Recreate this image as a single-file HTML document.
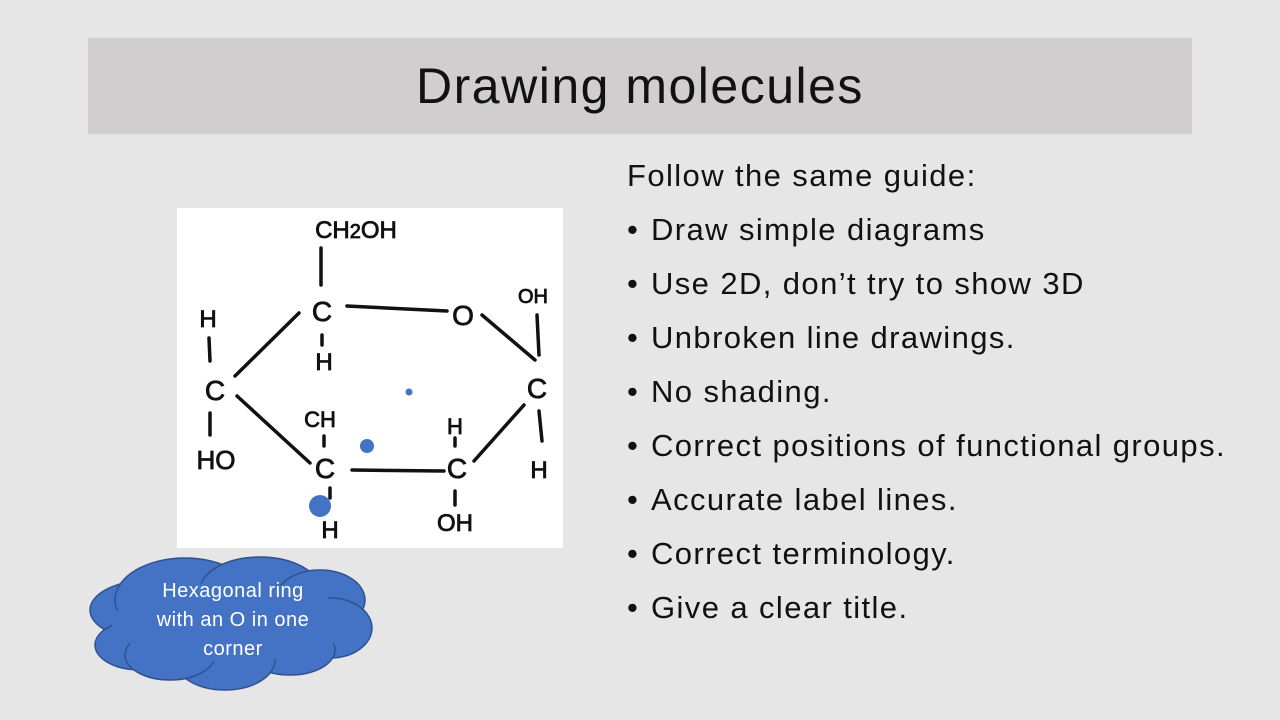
<!DOCTYPE html>
<html><head><meta charset="utf-8"><style>
body{margin:0;width:1280px;height:720px;background:#e7e6e6;position:relative;overflow:hidden;font-family:"Liberation Sans","DejaVu Sans",sans-serif}
.title{position:absolute;left:88px;top:38px;width:1104px;height:96px;background:#d0cece;text-align:center;line-height:96px;font-size:50px;letter-spacing:1.5px;color:#111}
.list{position:absolute;left:627px;top:155px;font-size:31px;letter-spacing:1.4px;color:#111}
.list div{height:54px;line-height:42px;white-space:nowrap}
.b{display:inline-block;width:24px;letter-spacing:0}
svg{position:absolute;left:0;top:0}
</style></head><body>
<div class="title">Drawing molecules</div>
<div class="list">
<div>Follow the same guide:</div>
<div><span class="b">•</span>Draw simple diagrams</div>
<div><span class="b">•</span>Use 2D, don’t try to show 3D</div>
<div><span class="b">•</span>Unbroken line drawings.</div>
<div><span class="b">•</span>No shading.</div>
<div><span class="b">•</span>Correct positions of functional groups.</div>
<div><span class="b">•</span>Accurate label lines.</div>
<div><span class="b">•</span>Correct terminology.</div>
<div><span class="b">•</span>Give a clear title.</div>
</div>
<svg width="1280" height="720">
<rect x="177" y="208" width="386" height="340" fill="#fff"/>
<g stroke="#111" stroke-width="3.5" stroke-linecap="round" fill="none">
<line x1="321" y1="248" x2="321" y2="285"/>
<line x1="322" y1="335" x2="322" y2="345"/>
<line x1="347" y1="306" x2="447" y2="311"/>
<line x1="537" y1="315" x2="539" y2="355"/>
<line x1="482" y1="315" x2="535" y2="360"/>
<line x1="539" y1="411" x2="542" y2="441"/>
<line x1="524" y1="405" x2="474" y2="461"/>
<line x1="455" y1="438" x2="455" y2="446"/>
<line x1="455" y1="491" x2="455" y2="505"/>
<line x1="352" y1="470" x2="444" y2="471"/>
<line x1="324" y1="436" x2="324" y2="446"/>
<line x1="330" y1="488" x2="330" y2="498"/>
<line x1="209" y1="338" x2="210" y2="361"/>
<line x1="210" y1="413" x2="210" y2="435"/>
<line x1="235" y1="376" x2="299" y2="313"/>
<line x1="237" y1="396" x2="310" y2="463"/>
</g>
<g font-family="Liberation Sans, sans-serif" font-size="28" fill="#111" text-anchor="middle" stroke="#111" stroke-width="0.8">
<text x="356" y="238" font-size="24">CH<tspan font-size="20">2</tspan>OH</text>
<text x="322" y="321">C</text>
<text x="324" y="370" font-size="24">H</text>
<text x="463" y="325">O</text>
<text x="533" y="303" font-size="20">OH</text>
<text x="537" y="398">C</text>
<text x="539" y="478" font-size="24">H</text>
<text x="457" y="478">C</text>
<text x="455" y="434" font-size="22">H</text>
<text x="455" y="531" font-size="24">OH</text>
<text x="325" y="478">C</text>
<text x="320" y="427" font-size="22">CH</text>
<text x="330" y="538" font-size="24">H</text>
<text x="215" y="400">C</text>
<text x="208" y="327" font-size="24">H</text>
<text x="216" y="469" font-size="26">HO</text>
</g>
<circle cx="409" cy="392" r="3.5" fill="#4472c4"/>
<circle cx="367" cy="446" r="7" fill="#4472c4"/>
<circle cx="320" cy="506" r="11" fill="#4472c4"/>
<g fill="#4472c4" stroke="#2f528f" stroke-width="1.5">
<ellipse cx="150" cy="610" rx="60" ry="30"/>
<ellipse cx="140" cy="645" rx="45" ry="25"/>
<ellipse cx="185" cy="600" rx="70" ry="42"/>
<ellipse cx="260" cy="590" rx="60" ry="33"/>
<ellipse cx="320" cy="600" rx="45" ry="30"/>
<ellipse cx="330" cy="628" rx="42" ry="30"/>
<ellipse cx="290" cy="650" rx="45" ry="25"/>
<ellipse cx="225" cy="660" rx="50" ry="30"/>
<ellipse cx="170" cy="655" rx="45" ry="25"/>
</g>
<g fill="#4472c4"><ellipse cx="232" cy="622" rx="120" ry="40"/></g>
<g font-family="Liberation Sans, sans-serif" font-size="20" fill="#fff" text-anchor="middle" letter-spacing="0.5">
<text x="233" y="597">Hexagonal ring</text>
<text x="233" y="626">with an O in one</text>
<text x="233" y="655">corner</text>
</g>
</svg>
</body></html>
